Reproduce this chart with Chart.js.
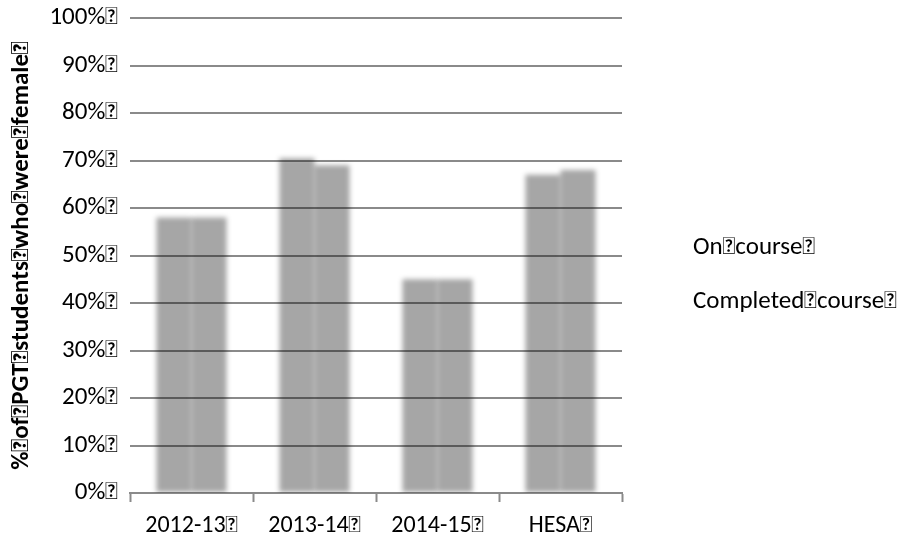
<!DOCTYPE html>
<html>
<head>
<meta charset="utf-8">
<script src="https://cdn.jsdelivr.net/npm/chart.js@4/dist/chart.umd.min.js"></script>
<style>
  html, body { margin: 0; padding: 0; background: #ffffff; }
  #wrap { width: 907px; height: 541px; }
</style>
</head>
<body>
<div id="wrap"><canvas id="c" width="907" height="541"></canvas></div>
<script>
// Glyph the source text carries in place of its spaces / line ends
const GAP = '\uF020';

const categories = ['2012-13' + GAP, '2013-14' + GAP, '2014-15' + GAP, 'HESA' + GAP];
const onCourse = [58, 70.5, 45, 67];
const completedCourse = [58, 69, 45, 68];
const seriesNames = ['On' + GAP + 'course' + GAP, 'Completed' + GAP + 'course' + GAP];
const yTickLabels = ['0%', '10%', '20%', '30%', '40%', '50%', '60%', '70%', '80%', '90%', '100%'];
const yTitle = '%' + GAP + 'of' + GAP + 'PGT' + GAP + 'students' + GAP + 'who' + GAP + 'were' + GAP + 'female' + GAP;

const FONT = 'Carlito, Calibri, Lato, sans-serif';
const FONT_SIZE = 25;
const GRID = '#8a8a8a';

// Soft-edged bars: blur only the dataset layer
const softBars = {
  id: 'softBars',
  beforeDatasetsDraw(chart) {
    chart.ctx.save();
    chart.ctx.filter = 'blur(2.5px)';
  },
  afterDatasetsDraw(chart) {
    chart.ctx.restore();
  }
};

// Legend drawn as plain text lines (no colour keys)
const textLegend = {
  id: 'textLegend',
  afterDraw(chart) {
    const ctx = chart.ctx;
    ctx.save();
    ctx.font = FONT_SIZE + 'px ' + FONT;
    ctx.fillStyle = '#000';
    ctx.textBaseline = 'middle';
    ctx.textAlign = 'left';
    const x = chart.chartArea.right + 71;
    const ys = [248, 302];
    chart.data.datasets.forEach((ds, i) => ctx.fillText(ds.label, x, ys[i]));
    ctx.restore();
  }
};

new Chart(document.getElementById('c'), {
  type: 'bar',
  data: {
    labels: categories,
    datasets: [
      { label: seriesNames[0], data: onCourse, backgroundColor: 'rgba(0,0,0,0.35)', borderWidth: 0 },
      { label: seriesNames[1], data: completedCourse, backgroundColor: 'rgba(0,0,0,0.35)', borderWidth: 0 }
    ]
  },
  options: {
    responsive: false,
    animation: false,
    devicePixelRatio: 1,
    categoryPercentage: 0.57,
    barPercentage: 1.0,
    layout: { padding: { left: 0, right: 285, top: 0, bottom: 0 } },
    plugins: {
      legend: { display: false },
      tooltip: { enabled: false }
    },
    scales: {
      x: {
        grid: {
          offset: true,
          drawOnChartArea: false,
          drawTicks: true,
          tickLength: 9,
          tickWidth: 2,
          tickColor: GRID
        },
        border: { display: true, color: GRID, width: 2 },
        ticks: {
          color: '#000',
          font: { family: FONT, size: 24 },
          padding: 10,
          maxRotation: 0
        },
        afterFit(scale) { scale.height = 48; }
      },
      y: {
        min: 0,
        max: 100,
        ticks: {
          stepSize: 10,
          color: '#000',
          font: { family: FONT, size: FONT_SIZE },
          padding: 12,
          callback: (v, i) => yTickLabels[i] + GAP
        },
        grid: { color: GRID, lineWidth: 2, drawTicks: false },
        border: { display: false },
        title: {
          display: true,
          text: yTitle,
          color: '#000',
          font: { family: FONT, size: 25, weight: 'bold' },
          padding: { top: 7, bottom: 0 }
        },
        afterFit(scale) {
          scale.width = 130;
          scale.paddingTop = 18;
        }
      }
    }
  },
  plugins: [softBars, textLegend]
});
</script>
</body>
</html>
